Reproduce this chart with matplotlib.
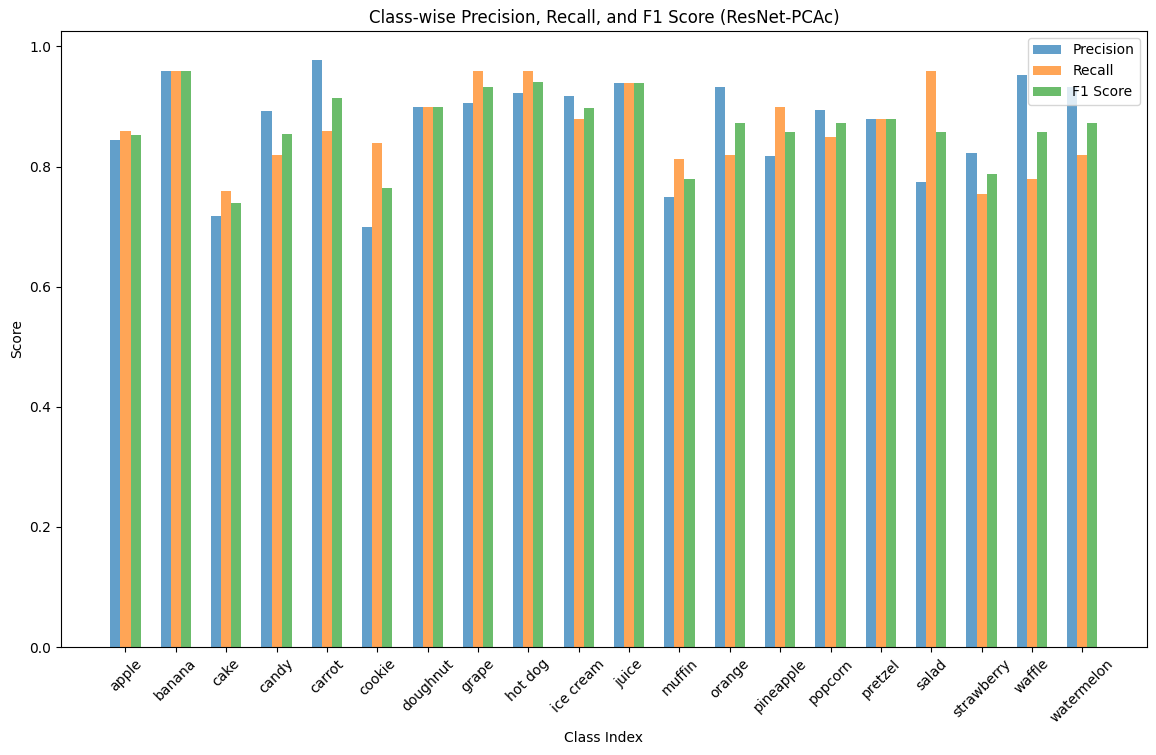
import numpy as np
import matplotlib
matplotlib.use("Agg")
import matplotlib.pyplot as plt

classes = ["apple", "banana", "cake", "candy", "carrot", "cookie", "doughnut", "grape",
           "hot dog", "ice cream", "juice", "muffin", "orange", "pineapple", "popcorn",
           "pretzel", "salad", "strawberry", "waffle", "watermelon"]
precision = [0.844, 0.96, 0.717, 0.892, 0.977, 0.70, 0.90, 0.906, 0.923, 0.917,
             0.94, 0.75, 0.932, 0.818, 0.895, 0.88, 0.774, 0.822, 0.952, 0.932]
recall = [0.86, 0.96, 0.76, 0.82, 0.86, 0.84, 0.90, 0.96, 0.96, 0.88,
          0.94, 0.812, 0.82, 0.90, 0.85, 0.88, 0.96, 0.755, 0.78, 0.82]
f1 = [0.852, 0.96, 0.739, 0.854, 0.915, 0.764, 0.90, 0.932, 0.941, 0.898,
      0.94, 0.78, 0.872, 0.857, 0.872, 0.88, 0.857, 0.787, 0.857, 0.872]

x = np.arange(len(classes))
width = 0.2

fig = plt.figure(figsize=(11.56, 7.55), dpi=100)
ax = fig.add_axes([0.0528, 0.143, 0.9392, 0.816])

ax.bar(x - width, precision, width, label="Precision", alpha=0.7)
ax.bar(x, recall, width, label="Recall", alpha=0.7)
ax.bar(x + width, f1, width, label="F1 Score", alpha=0.7)

ax.set_xticks(x)
ax.set_xticklabels(classes, rotation=45)
ax.set_xlabel("Class Index")
ax.set_ylabel("Score")
ax.set_title("Class-wise Precision, Recall, and F1 Score (ResNet-PCAc)")
ax.legend(loc="upper right")

plt.savefig("out.png")
